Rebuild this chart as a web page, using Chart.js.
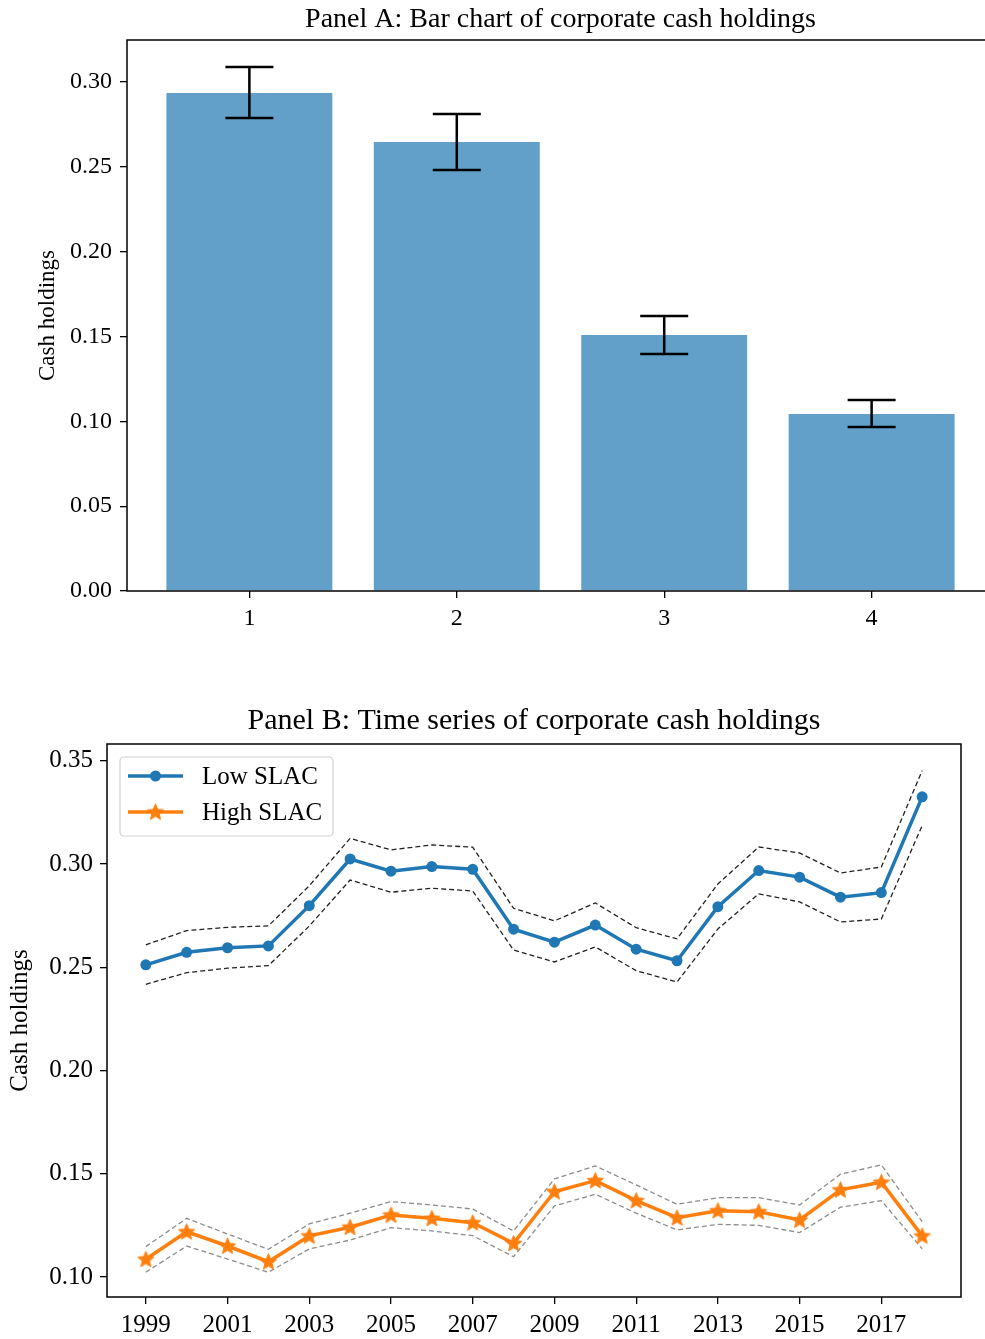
<!DOCTYPE html>
<html>
<head>
<meta charset="utf-8">
<script src="https://cdn.jsdelivr.net/npm/chart.js@4.4.0/dist/chart.umd.min.js"></script>
<style>
  html, body { margin: 0; padding: 0; background: #fff; overflow: hidden; width: 985px; height: 1339px; }
  #boxA { position: absolute; left: 0; top: 0; }
  #boxB { position: absolute; left: 0; top: 650px; }
</style>
</head>
<body>
<div id="boxA"><canvas id="panelA" width="1010" height="650"></canvas></div>
<div id="boxB"><canvas id="panelB" width="985" height="689"></canvas></div>
<script>
// Panel A: mean cash holdings by group, with error bars
var barGroups = [1, 2, 3, 4];
var barMeans = [0.2935, 0.2646, 0.1509, 0.1043];
var barErrLow = [0.2788, 0.2481, 0.1397, 0.0967];
var barErrHigh = [0.3088, 0.2811, 0.1621, 0.1126];
var barTicksY = [0.00, 0.05, 0.10, 0.15, 0.20, 0.25, 0.30];

// Panel B: yearly cash holdings for low / high SLAC firms, with bands
var years = [1999, 2000, 2001, 2002, 2003, 2004, 2005, 2006, 2007, 2008,
             2009, 2010, 2011, 2012, 2013, 2014, 2015, 2016, 2017, 2018];
var lowSlac = [0.2512, 0.2573, 0.2595, 0.2604, 0.2799, 0.3025, 0.2966, 0.2988, 0.2975, 0.2685,
               0.2622, 0.2705, 0.2588, 0.2532, 0.2794, 0.2969, 0.2937, 0.2840, 0.2862, 0.3326];
var lowUpper = [0.2609, 0.2678, 0.2694, 0.2701, 0.2895, 0.3125, 0.3069, 0.3093, 0.3082, 0.2786,
                0.2725, 0.2812, 0.2692, 0.2638, 0.2904, 0.3083, 0.3054, 0.2957, 0.2986, 0.3453];
var lowLower = [0.2418, 0.2474, 0.2496, 0.2508, 0.2700, 0.2923, 0.2864, 0.2883, 0.2870, 0.2584,
                0.2526, 0.2599, 0.2484, 0.2429, 0.2686, 0.2856, 0.2817, 0.2720, 0.2734, 0.3187];
var highSlac = [0.1086, 0.1219, 0.1150, 0.1074, 0.1199, 0.1241, 0.1300, 0.1284, 0.1263, 0.1163,
                0.1413, 0.1467, 0.1370, 0.1287, 0.1321, 0.1316, 0.1276, 0.1422, 0.1459, 0.1199];
var highUpper = [0.1147, 0.1284, 0.1208, 0.1134, 0.1257, 0.1309, 0.1365, 0.1349, 0.1329, 0.1223,
                 0.1475, 0.1538, 0.1446, 0.1352, 0.1384, 0.1384, 0.1349, 0.1498, 0.1543, 0.1268];
var highLower = [0.1023, 0.1150, 0.1087, 0.1023, 0.1136, 0.1179, 0.1239, 0.1223, 0.1200, 0.1098,
                 0.1344, 0.1401, 0.1309, 0.1228, 0.1255, 0.1250, 0.1215, 0.1338, 0.1370, 0.1136];
var seriesNames = ["Low SLAC", "High SLAC"];
var yearTicks = [1999, 2001, 2003, 2005, 2007, 2009, 2011, 2013, 2015, 2017];
var lineTicksY = [0.10, 0.15, 0.20, 0.25, 0.30, 0.35];

var SERIF = "'Liberation Serif', 'Times New Roman', serif";
var BLUE = "#1f77b4";
var ORANGE = "#ff7f0e";

function pairs(xs, ys) {
    var out = [];
    for (var i = 0; i < xs.length; i++) {
        out.push({ x: xs[i], y: ys[i] });
    }
    return out;
}

function fixedTicks(list) {
    return function(scale) {
        scale.ticks = list.map(function(v) { return { value: v }; });
    };
}

function makeStar(size, color) {
    var c = document.createElement("canvas");
    c.width = size;
    c.height = size;
    var g = c.getContext("2d");
    var cx = size / 2, cy = size / 2 + 0.5, r = size / 2 - 1, ri = r * 0.45;
    g.beginPath();
    for (var k = 0; k < 10; k++) {
        var rr = (k % 2 === 0) ? r : ri;
        var a = -Math.PI / 2 + k * Math.PI / 5;
        g.lineTo(cx + rr * Math.cos(a), cy + rr * Math.sin(a));
    }
    g.closePath();
    g.fillStyle = color;
    g.fill();
    g.lineWidth = 1;
    g.strokeStyle = color;
    g.stroke();
    return c;
}

var starImg = makeStar(19, ORANGE);

// title, y label and spines drawn by hand, matplotlib style
function panelDecor(opts) {
    return {
        id: "panelDecor",
        afterDraw: function(chart) {
            var ctx = chart.ctx, ca = chart.chartArea;
            ctx.save();
            ctx.strokeStyle = "#000";
            ctx.lineWidth = 1.5;
            ctx.strokeRect(ca.left, ca.top, ca.right - ca.left, ca.bottom - ca.top);

            ctx.fillStyle = "#000";
            ctx.textAlign = "center";
            ctx.textBaseline = "alphabetic";
            ctx.font = opts.titleSize + "px " + SERIF;
            ctx.fillText(opts.title, (ca.left + ca.right) / 2, opts.titleY);

            ctx.translate(opts.labelX, (ca.top + ca.bottom) / 2);
            ctx.rotate(-Math.PI / 2);
            ctx.textBaseline = "middle";
            ctx.font = opts.labelSize + "px " + SERIF;
            ctx.fillText(opts.yLabel, 0, 0);
            ctx.restore();
        }
    };
}

var errorBars = {
    id: "errorBars",
    afterDatasetsDraw: function(chart) {
        var ctx = chart.ctx;
        var xs = chart.scales.x, ys = chart.scales.y;
        ctx.save();
        ctx.strokeStyle = "#000";
        ctx.lineWidth = 2.5;
        for (var i = 0; i < barGroups.length; i++) {
            var px = xs.getPixelForValue(barGroups[i]);
            var top = ys.getPixelForValue(barErrHigh[i]);
            var bot = ys.getPixelForValue(barErrLow[i]);
            ctx.beginPath();
            ctx.moveTo(px, top); ctx.lineTo(px, bot);
            ctx.moveTo(px - 24, top); ctx.lineTo(px + 24, top);
            ctx.moveTo(px - 24, bot); ctx.lineTo(px + 24, bot);
            ctx.stroke();
        }
        ctx.restore();
    }
};

var boxLegend = {
    id: "boxLegend",
    afterDraw: function(chart) {
        var ctx = chart.ctx, ca = chart.chartArea;
        var x0 = ca.left + 13, y0 = ca.top + 13, w = 213, h = 79;
        ctx.save();
        ctx.beginPath();
        ctx.roundRect(x0, y0, w, h, 4);
        ctx.fillStyle = "rgba(255,255,255,0.8)";
        ctx.fill();
        ctx.strokeStyle = "#d0d0d0";
        ctx.lineWidth = 1.2;
        ctx.stroke();
        for (var i = 0; i < seriesNames.length; i++) {
            var ds = chart.data.datasets[i];
            var yy = y0 + 19 + i * 36;
            ctx.strokeStyle = ds.borderColor;
            ctx.lineWidth = ds.borderWidth;
            ctx.beginPath();
            ctx.moveTo(x0 + 8, yy);
            ctx.lineTo(x0 + 63, yy);
            ctx.stroke();
            if (ds.pointStyle === "circle") {
                ctx.fillStyle = ds.borderColor;
                ctx.beginPath();
                ctx.arc(x0 + 35.5, yy, ds.pointRadius, 0, Math.PI * 2);
                ctx.fill();
            } else {
                ctx.drawImage(ds.pointStyle, x0 + 35.5 - ds.pointStyle.width / 2, yy - ds.pointStyle.height / 2);
            }
            ctx.fillStyle = "#000";
            ctx.font = "25px " + SERIF;
            ctx.textAlign = "left";
            ctx.textBaseline = "middle";
            ctx.fillText(seriesNames[i], x0 + 82, yy + 1);
        }
        ctx.restore();
    }
};

function axisStyle(size, pad) {
    return {
        offset: false,
        grid: { offset: false, drawOnChartArea: false, drawTicks: true, tickLength: 7, color: "#000", lineWidth: 1.3 },
        border: { display: false },
        ticks: { color: "#000", font: { family: SERIF, size: size }, padding: pad, autoSkip: false, maxRotation: 0 }
    };
}

// ---------- Panel A ----------
var xA = axisStyle(24, 6);
xA.type = "linear";
xA.min = 0.41;
xA.max = 4.59;
xA.afterBuildTicks = fixedTicks(barGroups);
xA.ticks.callback = function(v) { return String(v); };
xA.afterFit = function(s) { s.height = 59; };

var yA = axisStyle(24, 8);
yA.min = 0;
yA.max = 0.3247;
yA.afterBuildTicks = fixedTicks(barTicksY);
yA.ticks.callback = function(v) { return v.toFixed(2); };
yA.afterFit = function(s) { s.width = 127; };

new Chart(document.getElementById("panelA"), {
    type: "bar",
    data: {
        datasets: [{
            data: pairs(barGroups, barMeans),
            backgroundColor: "rgba(31,119,180,0.7)",
            borderWidth: 0,
            barPercentage: 0.8,
            categoryPercentage: 1.0
        }]
    },
    options: {
        responsive: false,
        animation: false,
        devicePixelRatio: 1,
        layout: { padding: { top: 40, right: 16, bottom: 0, left: 0 } },
        plugins: { legend: { display: false }, tooltip: { enabled: false } },
        scales: { x: xA, y: yA }
    },
    plugins: [errorBars, panelDecor({
        title: "Panel A: Bar chart of corporate cash holdings", titleSize: 28, titleY: 27,
        yLabel: "Cash holdings", labelSize: 23, labelX: 48
    })]
});

// ---------- Panel B ----------
var xB = axisStyle(25, 6);
xB.type = "linear";
xB.min = 1998.05;
xB.max = 2018.95;
xB.afterBuildTicks = fixedTicks(yearTicks);
xB.ticks.callback = function(v) { return String(v); };
xB.afterFit = function(s) { s.height = 42; };

var yB = axisStyle(25, 7);
yB.min = 0.0903;
yB.max = 0.3582;
yB.afterBuildTicks = fixedTicks(lineTicksY);
yB.ticks.callback = function(v) { return v.toFixed(2); };
yB.afterFit = function(s) { s.width = 107; };

function bandLine(ys, color) {
    return {
        data: pairs(years, ys),
        borderColor: color,
        borderWidth: 1.3,
        borderDash: [5, 3],
        pointRadius: 0,
        fill: false,
        tension: 0
    };
}

new Chart(document.getElementById("panelB"), {
    type: "line",
    data: {
        datasets: [
            {
                label: seriesNames[0],
                data: pairs(years, lowSlac),
                borderColor: BLUE,
                backgroundColor: BLUE,
                borderWidth: 3.5,
                pointStyle: "circle",
                pointRadius: 5.5,
                pointBorderWidth: 0,
                tension: 0
            },
            {
                label: seriesNames[1],
                data: pairs(years, highSlac),
                borderColor: ORANGE,
                backgroundColor: ORANGE,
                borderWidth: 3.5,
                pointStyle: starImg,
                pointRadius: 9,
                tension: 0
            },
            bandLine(lowUpper, "#222"),
            bandLine(lowLower, "#222"),
            bandLine(highUpper, "#8c8c8c"),
            bandLine(highLower, "#8c8c8c")
        ]
    },
    options: {
        responsive: false,
        animation: false,
        devicePixelRatio: 1,
        layout: { padding: { top: 94, right: 24, bottom: 0, left: 0 } },
        plugins: { legend: { display: false }, tooltip: { enabled: false } },
        scales: { x: xB, y: yB }
    },
    plugins: [boxLegend, panelDecor({
        title: "Panel B: Time series of corporate cash holdings", titleSize: 30, titleY: 79,
        yLabel: "Cash holdings", labelSize: 25, labelX: 20
    })]
});
</script>
</body>
</html>
